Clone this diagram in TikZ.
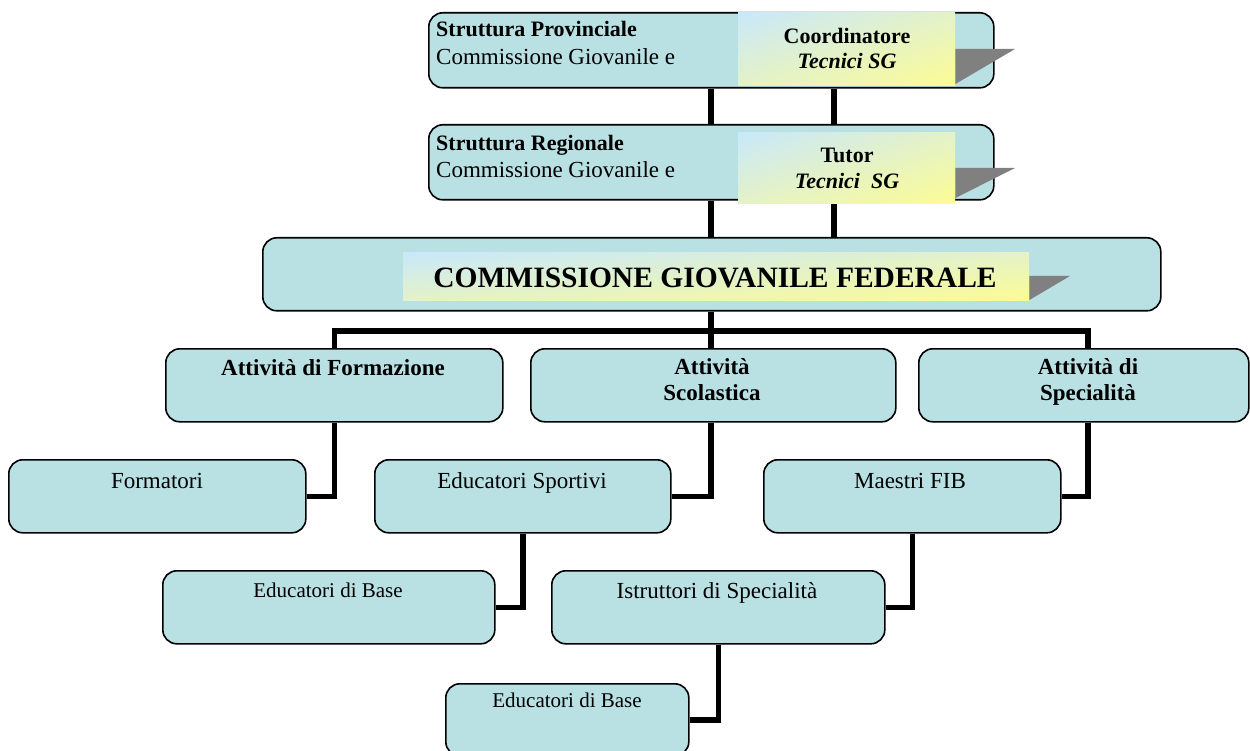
\documentclass[tikz,border=0pt]{standalone}
\usepackage{fontspec}
\setmainfont{Liberation Serif}
\usetikzlibrary{shadings}
\definecolor{boxfill}{RGB}{185,224,227}
\definecolor{gradUL}{RGB}{200,232,252}
\definecolor{gradLR}{RGB}{252,252,148}
\definecolor{gradMid}{RGB}{228,242,200}
\definecolor{foldgray}{RGB}{128,128,128}
\tikzset{
  orgbox/.style={draw=black, line width=1.6pt, fill=boxfill, rounded corners=14pt,
    rectangle, inner sep=0pt, anchor=north west},
  gradbox/.style={rectangle, inner sep=0pt, anchor=north west, draw=none,
    upper left=gradUL, lower right=gradLR, upper right=gradMid, lower left=gradMid},
  conn/.style={draw=black, line width=5.5pt, line join=miter},
  fold/.style={fill=foldgray, draw=none},
  lblB/.style={font=\fontsize{22}{26}\selectfont\bfseries, inner sep=0pt},
  lblD/.style={font=\fontsize{23}{27}\selectfont\bfseries, inner sep=0pt},
  lblR/.style={font=\fontsize{23}{27}\selectfont, inner sep=0pt},
  lblS/.style={font=\fontsize{21}{25}\selectfont, inner sep=0pt},
  lblT/.style={font=\fontsize{29.5}{34}\selectfont\bfseries, inner sep=0pt},
  lblI/.style={font=\fontsize{22}{26}\selectfont\bfseries\itshape, inner sep=0pt}
}
\begin{document}
\begin{tikzpicture}[x=1pt,y=-1pt]
\useasboundingbox (0,0) rectangle (1250,751);

% boxes
\node[orgbox, minimum width=565pt, minimum height=75pt] (A) at (428,12) {};
\node[orgbox, minimum width=565pt, minimum height=75pt] (B) at (428,124) {};
\node[orgbox, minimum width=898pt, minimum height=73pt] (C) at (262,237) {};
\node[orgbox, minimum width=337pt, minimum height=73pt] (D1) at (165,348) {};
\node[orgbox, minimum width=365pt, minimum height=73pt] (D2) at (530,348) {};
\node[orgbox, minimum width=330pt, minimum height=73pt] (D3) at (918,348) {};
\node[orgbox, minimum width=297pt, minimum height=73pt] (F) at (8,459) {};
\node[orgbox, minimum width=296pt, minimum height=73pt] (ES) at (374,459) {};
\node[orgbox, minimum width=297pt, minimum height=73pt] (MF) at (763,459) {};
\node[orgbox, minimum width=332pt, minimum height=73pt] (EB1) at (162,570) {};
\node[orgbox, minimum width=333pt, minimum height=73pt] (IS) at (551,570) {};
\node[orgbox, minimum width=243pt, minimum height=72pt] (EB2) at (445,683) {};

% connector coordinates
\coordinate (xL) at (711,0);
\coordinate (xR) at (834,0);
\coordinate (bus) at (711,331);
\coordinate (xD3) at (1088,0);

% connectors
\draw[conn] (A.south -| xL) -- (B.north -| xL);
\draw[conn] (A.south -| xR) -- (B.north -| xR);
\draw[conn] (B.south -| xL) -- (C.north -| xL);
\draw[conn] (B.south -| xR) -- (C.north -| xR);
\draw[conn] (C.south -| xL) -- (D2.north -| xL);
\draw[conn] (D1.north) |- (bus) -| (D3.north -| xD3);
\draw[conn] (D1.south) |- (F.east);
\draw[conn] (D2.south -| xL) |- (ES.east);
\draw[conn] (D3.south -| xD3) |- (MF.east);
\draw[conn] (ES.south) |- (EB1.east);
\draw[conn] (MF.south) |- (IS.east);
\draw[conn] (IS.south) |- (EB2.east);

% gradient inner boxes
\node[gradbox, minimum width=217pt, minimum height=73pt] (IA) at (738,12) {};
\node[gradbox, minimum width=217pt, minimum height=71pt] (IB) at (738,132) {};
\node[gradbox, minimum width=626pt, minimum height=48pt] (IC) at (403,252) {};

% folds
\fill[fold] (IA.east |- 0,49) -- (1015,49) -- (IA.east |- 0,84) -- cycle;
\fill[fold] (IB.east |- 0,168) -- (1015,168) -- (IB.east |- 0,198) -- cycle;
\fill[fold] (IC.east |- 0,276) -- (1070,276) -- (IC.east |- 0,300) -- cycle;

% texts
\node[lblB, anchor=base west] (tA1) at (436,37) {Struttura Provinciale};
\node[lblR, anchor=base west] (tA2) at (436,65) {Commissione Giovanile e};
\node[lblB, anchor=base] (tA3) at (847,44) {Coordinatore};
\node[lblI, anchor=base] (tA4) at (847,69) {Tecnici SG};

\node[lblB, anchor=base west] (tB1) at (436,151) {Struttura Regionale};
\node[lblR, anchor=base west] (tB2) at (436,178) {Commissione Giovanile e};
\node[lblB, anchor=base] (tB3) at (847,163) {Tutor};
\node[lblI, anchor=base] (tB4) at (847,189) {Tecnici~~SG};

\node[lblT, anchor=base] (tC) at (715,288) {COMMISSIONE GIOVANILE FEDERALE};

\node[lblD, anchor=base] (tD1) at (333,375) {Attività di Formazione};
\node[lblD, anchor=base] (tD2a) at (712,374) {Attività};
\node[lblD, anchor=base] (tD2b) at (712,400) {Scolastica};
\node[lblD, anchor=base] (tD3a) at (1088,374) {Attività di};
\node[lblD, anchor=base] (tD3b) at (1088,400) {Specialità};

\node[lblR, anchor=base] (tF) at (157,488) {Formatori};
\node[lblR, anchor=base] (tES) at (522,488) {Educatori Sportivi};
\node[lblR, anchor=base] (tMF) at (910,488) {Maestri FIB};
\node[lblS, anchor=base] (tEB1) at (328,597) {Educatori di Base};
\node[lblR, anchor=base] (tIS) at (717,598) {Istruttori di Specialità};
\node[lblS, anchor=base] (tEB2) at (567,707) {Educatori di Base};
\end{tikzpicture}
\end{document}
